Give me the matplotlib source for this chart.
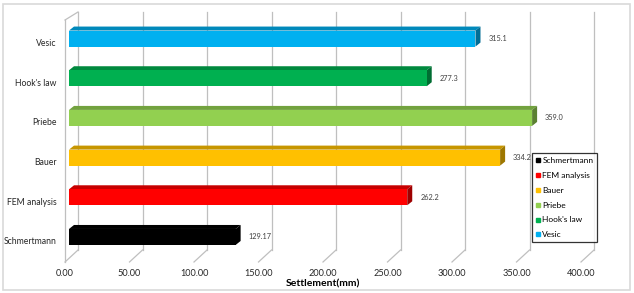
import matplotlib
matplotlib.use("Agg")
import matplotlib.pyplot as plt
from matplotlib.patches import Polygon, Rectangle
from matplotlib.lines import Line2D
from matplotlib.colors import to_rgb

# data (bottom to top)
methods = ["Schmertmann", "FEM analysis", "Bauer", "Priebe", "Hook's law", "Vesic"]
settlement = [129.17, 262.2, 334.2, 359.0, 277.3, 315.1]
value_labels = ["129.17", "262.2", "334.2", "359.0", "277.3", "315.1"]
colors = ["#000000", "#FF0000", "#FFC000", "#92D050", "#00B050", "#00B0F0"]
xticks = [0, 50, 100, 150, 200, 250, 300, 350, 400]

W, H = 634, 293
fig = plt.figure(figsize=(W / 100, H / 100), dpi=100)
plt.rcParams['font.family'] = ['Lato', 'DejaVu Sans']

# front plane of the 3d box, in pixels
left_px, right_px, floor_px, top_px = 65, 581, 262, 12
ax = fig.add_axes([left_px / W, (H - floor_px) / H,
                   (right_px - left_px) / W, (floor_px - top_px) / H])
y0, y1 = -0.53, 5.77
ax.set_xlim(0, 400)
ax.set_ylim(y0, y1)
sx = 400 / (right_px - left_px)          # data units per px
sy = (y1 - y0) / (floor_px - top_px)

for s in ax.spines.values():
    s.set_visible(False)

grid_c = "#BFBFBF"
DX, DY = 13 * sx, 12 * sy
# back wall gridlines + floor diagonals
for t in xticks:
    ax.plot([t + DX, t + DX], [y0 + DY, y1], color=grid_c, lw=0.9, clip_on=False, zorder=1)
    ax.plot([t, t + DX], [y0, y0 + DY], color=grid_c, lw=0.9, clip_on=False, zorder=1)
# left wall
ax.plot([0, 0], [y0, y1 - 8 * sy], color=grid_c, lw=0.9, clip_on=False, zorder=1)
ax.plot([0, DX], [y1 - 8 * sy, y1], color=grid_c, lw=0.9, clip_on=False, zorder=1)


def shade(c, f):
    r, g, b = to_rgb(c)
    return (r * f, g * f, b * f)


# 3d bars
bx, by = 4 * sx, 4 * sy          # front face offset
dx, dy = 5 * sx, 4 * sy          # bar depth
hh = 8 * sy                      # half height of front face
for i, (v, c) in enumerate(zip(settlement, colors)):
    yc = i + by
    xl, xr = bx, v + bx
    yb, yt = yc - hh, yc + hh
    top = Polygon([(xl, yt), (xr, yt), (xr + dx, yt + dy), (xl + dx, yt + dy)],
                  closed=True, fc=shade(c, 0.78), ec="none", clip_on=False, zorder=3)
    end = Polygon([(xr, yb), (xr + dx, yb + dy), (xr + dx, yt + dy), (xr, yt)],
                  closed=True, fc=shade(c, 0.62), ec="none", clip_on=False, zorder=3)
    front = Rectangle((xl, yb), xr - xl, yt - yb, fc=c, ec="none", clip_on=False, zorder=4)
    ax.add_patch(top)
    ax.add_patch(end)
    ax.add_patch(front)
    ax.text(xr + dx + 8 * sx, yc, value_labels[i], fontsize=5.3, color="#404040",
            va="center", ha="left")

ax.set_yticks(range(len(methods)))
ax.set_yticklabels(methods, fontsize=6.2, color="#262626")
ax.set_xticks(xticks)
ax.set_xticklabels(["%.2f" % t for t in xticks], fontsize=6.6, color="#262626")
ax.tick_params(length=0)
ax.tick_params(axis="y", pad=6)
ax.tick_params(axis="x", pad=5)
ax.set_xlabel("Settlement(mm)", fontsize=7.5, fontweight="bold", labelpad=1)

handles = [Line2D([], [], marker="s", ls="none", color=c, markersize=3.3) for c in colors]
leg = fig.legend(handles, methods, loc="upper left",
                 bbox_to_anchor=(532 / W, (H - 153) / H), fontsize=6,
                 frameon=True, fancybox=False, edgecolor="black",
                 handlelength=0.5, handletextpad=0.3, borderpad=0.45,
                 labelspacing=0.95, borderaxespad=0)
leg.get_frame().set_linewidth(0.9)

# outer chart border
fig.patches.append(Rectangle((3 / W, 3 / H), (W - 7) / W, (H - 7) / H,
                             transform=fig.transFigure, fill=False,
                             ec="#D9D9D9", lw=1.2))

fig.savefig("out.png", dpi=100)
